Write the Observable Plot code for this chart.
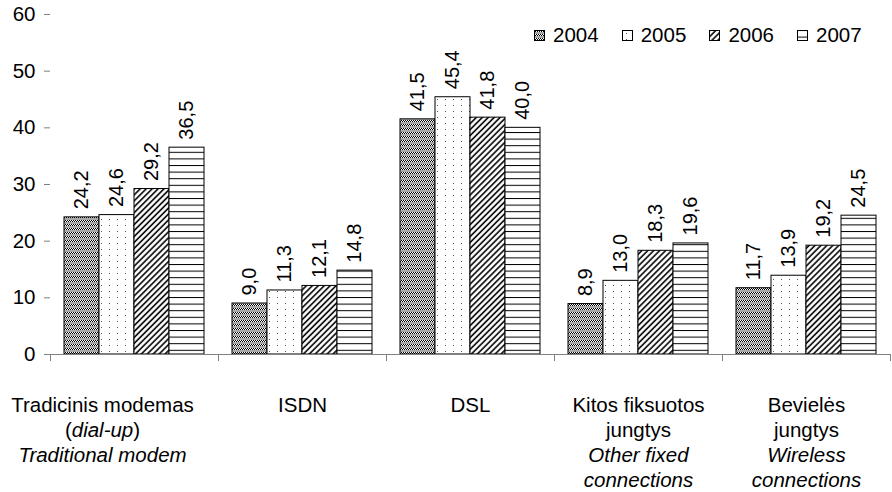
<!DOCTYPE html>
<html><head><meta charset="utf-8">
<script src="https://cdn.jsdelivr.net/npm/d3@7"></script>
<script src="https://cdn.jsdelivr.net/npm/@observablehq/plot@0.6"></script>
<style>
body{margin:0;background:#fff;font-family:"Liberation Sans",Arial,sans-serif;}
#wrap{position:relative;width:892px;height:492px;}
#legend{position:absolute;left:534px;top:24px;display:flex;font-size:20.5px;line-height:22px;color:#000;}
.item{display:flex;align-items:center;width:87.7px;}
.item svg{margin-right:8px;}
</style></head><body>
<svg width="0" height="0" style="position:absolute">
<defs>
<pattern id="p2004" patternUnits="userSpaceOnUse" width="4" height="4">
  <rect width="4" height="4" fill="#a8a8a8"/>
  <rect x="0" y="0" width="4" height="2" fill="#fff"/>
  <rect x="0" y="0" width="1" height="1" fill="#000"/>
  <rect x="2" y="0" width="1" height="1" fill="#000"/>
  <rect x="1" y="1" width="1" height="1" fill="#000"/>
  <rect x="3" y="1" width="1" height="1" fill="#000"/>
</pattern>
<pattern id="p2005" patternUnits="userSpaceOnUse" width="8" height="6">
  <rect width="8" height="6" fill="#fff"/>
  <rect x="4" y="3" width="1" height="1" fill="#555"/>
</pattern>
<pattern id="p2006" patternUnits="userSpaceOnUse" width="4.2" height="4.2" patternTransform="rotate(45)">
  <rect width="4.2" height="4.2" fill="#fff"/>
  <line x1="1" y1="0" x2="1" y2="4.2" stroke="#000" stroke-width="1.6"/>
</pattern>
<pattern id="p2007" patternUnits="userSpaceOnUse" width="4" height="6.6">
  <rect width="4" height="6.6" fill="#fff"/>
  <line x1="0" y1="0.5" x2="4" y2="0.5" stroke="#000" stroke-width="1"/>
</pattern>
</defs>
</svg>
<div id="wrap"><div id="legend"></div></div>
<script>
// ---- data ----
const categories = ["Tradicinis modemas", "ISDN", "DSL", "Kitos fiksuotos jungtys", "Bevielės jungtys"];
const labelsLT = ["Tradicinis modemas\n(*dial-up*)", "ISDN", "DSL", "Kitos fiksuotos\njungtys", "Bevielės\njungtys"];
const labelsEN = ["Traditional modem", "", "", "Other fixed\nconnections", "Wireless\nconnections"];
const years = ["2004", "2005", "2006", "2007"];
const v2004 = [24.2, 9.0, 41.5, 8.9, 11.7];
const v2005 = [24.6, 11.3, 45.4, 13.0, 13.9];
const v2006 = [29.2, 12.1, 41.8, 18.3, 19.2];
const v2007 = [36.5, 14.8, 40.0, 19.6, 24.5];
const yTicks = [0, 10, 20, 30, 40, 50, 60];

const series = [v2004, v2005, v2006, v2007];
const rows = categories.flatMap((c, i) => years.map((y, j) => ({cat: c, year: y, value: series[j][i]})));

// ---- layout ----
const W = 892, H = 492, mT = 14, mB = 138, mL = 49, mR = 2;
const plotH = H - mT - mB;
const gray = "#808080";
const font = '"Liberation Sans", Arial, sans-serif';
const fmt = v => d3.format(".1f")(v).replace(".", ",");

const chart = Plot.plot({
  width: W, height: H,
  marginTop: mT, marginBottom: mB, marginLeft: mL, marginRight: mR,
  style: {fontFamily: font, fontSize: "20.5px", color: "#000", background: "#fff", overflow: "visible"},
  fx: {domain: categories, padding: 0, label: null},
  x: {domain: years, paddingInner: 0, paddingOuter: 0.336, axis: null, label: null},
  y: {domain: [0, 60], label: null},
  color: {type: "ordinal", domain: years, range: years.map(y => `url(#p${y})`)},
  marks: [
    Plot.barY(rows, {fx: "cat", x: "year", y: "value", fill: "year", stroke: "#000", strokeWidth: 1}),
    Plot.text(rows, {fx: "cat", x: "year", y: "value", text: d => fmt(d.value), rotate: -90,
      textAnchor: "start", lineAnchor: "middle", dy: -8, fontSize: 20, fill: "#000"}),
    Plot.ruleY([0], {stroke: gray}),
    Plot.frame({anchor: "left", stroke: gray, insetTop: plotH, insetBottom: -6}),
    Plot.frame({anchor: "right", stroke: gray, insetTop: plotH, insetBottom: -6}),
    Plot.axisY({ticks: yTicks, tickSize: 6, tickPadding: 9, stroke: gray, line: true, label: null}),
    Plot.axisFx({anchor: "bottom", tickSize: 0, tickPadding: 0, label: null})
  ]
});

const wrap = document.getElementById("wrap");
wrap.insertBefore(chart, wrap.firstChild);

// multi-line category labels with italic parts
const firstBaseline = H - mB + 58, lineGap = 25, firstLabelShift = -32;
function parse(line) {
  return line.split("*").map((s, k) => [s, k % 2 === 1]).filter(s => s[0] !== "");
}
d3.select(chart).selectAll('g[aria-label="fx-axis tick label"] text').each(function(_, i) {
  const ctm = this.getCTM();
  const t = d3.select(this);
  t.attr("y", null).attr("dy", null).text(null);
  const lines = labelsLT[i].split("\n").map(parse);
  if (labelsEN[i]) labelsEN[i].split("\n").forEach(l => lines.push([[l, true]]));
  const shift = i === 0 ? firstLabelShift : 0;
  lines.forEach((segs, k) => {
    segs.forEach((s, si) => {
      const ts = t.append("tspan").text(s[0]).attr("font-style", s[1] ? "italic" : "normal");
      if (si === 0) ts.attr("x", shift).attr("y", firstBaseline + k * lineGap - ctm.f);
    });
  });
});

// legend
const legend = d3.select("#legend");
years.forEach(y => {
  const it = legend.append("div").attr("class", "item");
  const s = it.append("svg").attr("width", 11).attr("height", 11);
  s.append("rect").attr("x", 0.5).attr("y", 0.5).attr("width", 10).attr("height", 10)
    .attr("fill", `url(#p${y})`).attr("stroke", "#000");
  it.append("span").text(y);
});
</script>
</body></html>
